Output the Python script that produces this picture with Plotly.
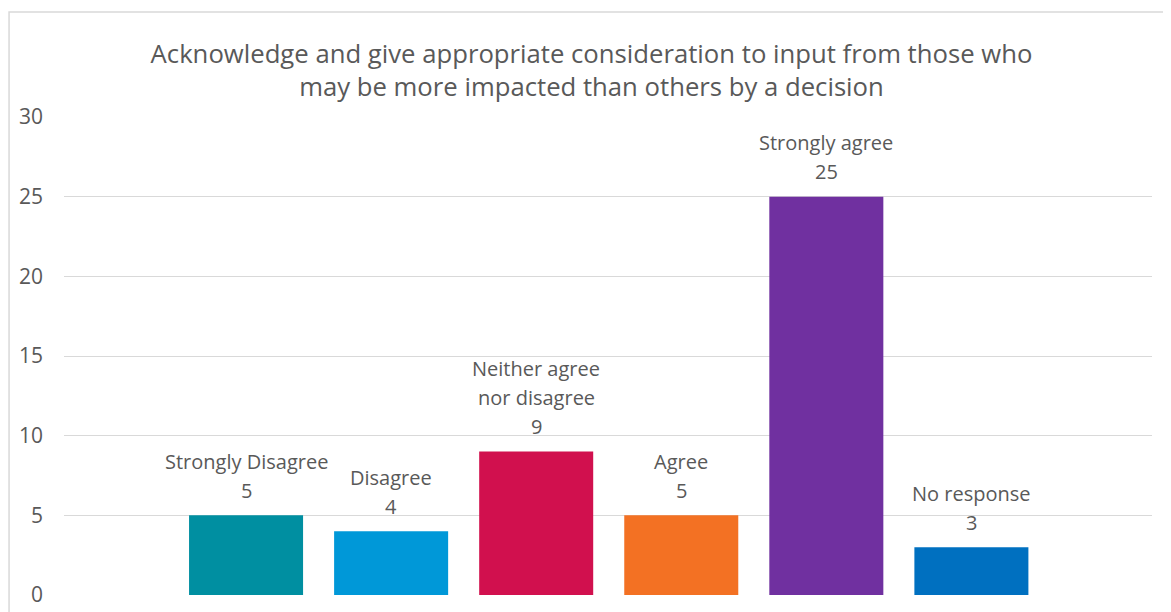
import plotly.graph_objects as go

categories = ["Strongly Disagree", "Disagree", "Neither agree nor disagree", "Agree", "Strongly agree", "No response"]
label_lines = [["Strongly Disagree"], ["Disagree"], ["Neither agree", "nor disagree"], ["Agree"], ["Strongly agree"], ["No response"]]
values = [5, 4, 9, 5, 25, 3]
colors = ["#008FA1", "#0098D8", "#D1104E", "#F37123", "#7030A0", "#0070C0"]
y_ticks = [0, 5, 10, 15, 20, 25, 30]

FONT = "Open Sans"
GREY = "#595959"
LINE_STEP = 29

fig = go.Figure()
fig.add_trace(go.Bar(
    x=categories, y=values, marker=dict(color=colors, line=dict(width=0)),
    width=0.786, showlegend=False, hoverinfo="skip",
))

for cat, lines, v in zip(categories, label_lines, values):
    all_lines = lines + [str(v)]
    for i, txt in enumerate(reversed(all_lines)):
        fig.add_annotation(x=cat, y=v, text=txt, showarrow=False, yanchor="middle",
                           yshift=25 + i * LINE_STEP,
                           font=dict(family=FONT, size=20, color=GREY))

fig.update_layout(
    width=1171, height=612,
    margin=dict(l=56, r=27, t=109, b=25),
    paper_bgcolor="white", plot_bgcolor="white",
    title=dict(text="Acknowledge and give appropriate consideration to input from those who<br>may be more impacted than others by a decision",
               x=0.4983, xanchor="center", y=0.9104, yanchor="middle",
               font=dict(family=FONT, size=25.7, color=GREY)),
    xaxis=dict(type="category", range=[-1.255, 6.245], showticklabels=False,
               showgrid=False, zeroline=False, showline=False, ticks=""),
    yaxis=dict(range=[0, 30], tickvals=y_ticks, showgrid=True, gridcolor="#D9D9D9",
               gridwidth=1, zeroline=False, showline=False, ticks="",
               ticklabelstandoff=20,
               tickfont=dict(family=FONT, size=21, color=GREY)),
    shapes=[dict(type="rect", xref="paper", yref="paper", x0=-0.0505, x1=1.05, y0=-0.1, y1=1.2197,
                 line=dict(color="#D9D9D9", width=1.5), fillcolor="rgba(0,0,0,0)", layer="below")],
)

fig.write_html("out.html")
